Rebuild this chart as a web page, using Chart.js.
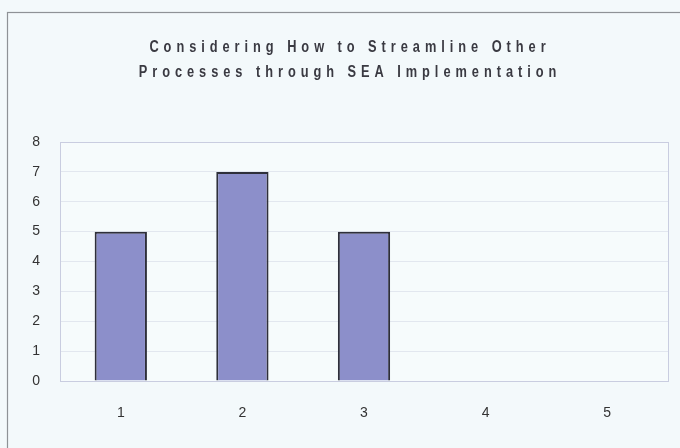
<!DOCTYPE html>
<html>
<head>
<meta charset="utf-8">
<script src="https://cdn.jsdelivr.net/npm/chart.js@4"></script>
<style>
  html, body { margin: 0; padding: 0; background: #f3f9fb; }
  #wrap { width: 680px; height: 448px; position: relative; }
</style>
</head>
<body>
<div id="wrap"><canvas id="c" width="680" height="448"></canvas></div>
<script>
// Chart data
const categories = ['1', '2', '3', '4', '5'];
const responses = [5, 7, 5, 0, 0];
const titleLines = ['Considering How to Streamline Other', 'Processes through SEA Implementation'];

const FONT = '"Liberation Sans Narrow", "Arial Narrow", "Liberation Sans", Arial, sans-serif';

// Page background, outer frame, plot-area fill and spaced, condensed title
const framePlugin = {
  id: 'frame',
  beforeDraw(chart) {
    const ctx = chart.ctx;
    const a = chart.chartArea;
    ctx.save();
    ctx.fillStyle = '#f3f9fb';
    ctx.fillRect(0, 0, chart.width, chart.height);
    ctx.strokeStyle = '#8e9296';
    ctx.lineWidth = 1.2;
    ctx.strokeRect(7.5, 12.5, 680, 460);
    ctx.fillStyle = '#f6fbfc';
    ctx.fillRect(a.left, a.top, a.right - a.left, a.bottom - a.top);
    ctx.restore();
  },
  afterDraw(chart) {
    const ctx = chart.ctx;
    const a = chart.chartArea;
    ctx.save();
    ctx.strokeStyle = '#c9cde0';
    ctx.lineWidth = 1;
    ctx.strokeRect(a.left + 0.5, a.top + 0.5, a.right - a.left, a.bottom - a.top);
    ctx.restore();

    const sx = 0.8;
    ctx.save();
    ctx.scale(sx, 1);
    ctx.fillStyle = '#3a3a42';
    ctx.font = 'bold 16px ' + FONT;
    ctx.letterSpacing = '6.2px';
    ctx.textAlign = 'center';
    ctx.textBaseline = 'middle';
    titleLines.forEach((t, i) => ctx.fillText(t, 350 / sx, 48 + i * 25));
    ctx.restore();
  }
};

new Chart(document.getElementById('c'), {
  type: 'bar',
  data: {
    labels: categories,
    datasets: [{
      data: responses,
      backgroundColor: '#8c8fca',
      borderColor: '#2e2f3a',
      borderWidth: 2,
      categoryPercentage: 1,
      barPercentage: 0.43
    }]
  },
  options: {
    responsive: false,
    animation: false,
    layout: { padding: { top: 142, left: 8, right: 12, bottom: 0 } },
    plugins: { legend: { display: false }, tooltip: { enabled: false }, title: { display: false } },
    scales: {
      x: {
        grid: { display: false, drawTicks: false },
        border: { display: false },
        ticks: { color: '#333', font: { family: FONT, size: 14 }, padding: 24 },
        afterFit(s) { s.height = 67; }
      },
      y: {
        min: 0, max: 8,
        grid: { color: '#e2e7ef', lineWidth: 1, drawTicks: false },
        border: { display: false },
        ticks: { stepSize: 1, color: '#333', font: { family: FONT, size: 14 }, padding: 20 },
        afterFit(s) { s.width = 52; }
      }
    }
  },
  plugins: [framePlugin]
});
</script>
</body>
</html>
